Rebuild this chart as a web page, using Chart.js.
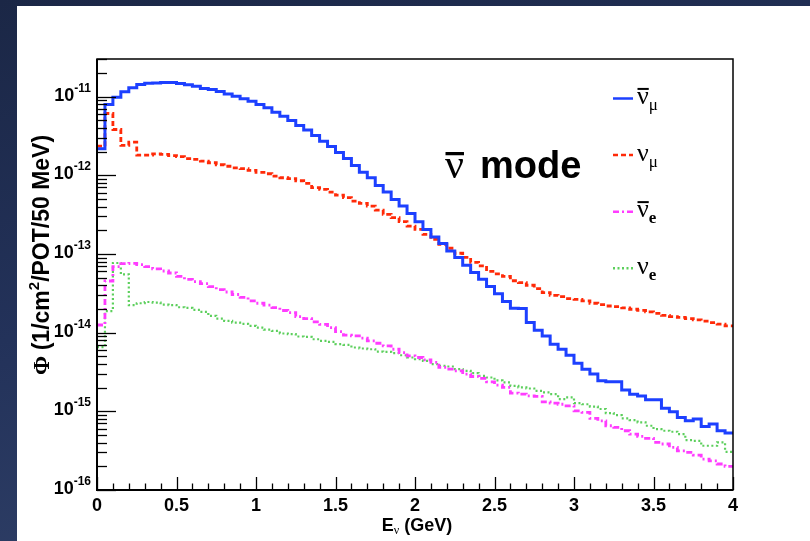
<!DOCTYPE html>
<html>
<head>
<meta charset="utf-8">
<script src="https://cdn.jsdelivr.net/npm/chart.js@4.4.1/dist/chart.umd.min.js"></script>
<style>
  html, body { margin: 0; padding: 0; width: 810px; height: 541px; overflow: hidden; }
  body { position: relative; background: linear-gradient(165deg, #1b2746 0%, #23325a 45%, #34456c 100%); }
  #sheet { position: absolute; left: 17px; top: 6px; right: 0; bottom: 0; background: #fff; }
  #flux { position: absolute; left: 0; top: 0; }
</style>
</head>
<body>
<div id="sheet"></div>
<canvas id="flux" width="810" height="541"></canvas>
<script>
// 50 MeV bins, 0 - 4 GeV
const binEdges = Array.from({ length: 81 }, (_, i) => +(i * 0.05).toFixed(2));

// flux per bin (1/cm2/POT/50 MeV)
const antiNuMu = [
  2.17e-12, 7.9e-12, 9.8e-12, 1.15e-11, 1.29e-11, 1.42e-11, 1.48e-11, 1.49e-11, 1.51e-11, 1.51e-11,
  1.46e-11, 1.41e-11, 1.35e-11, 1.27e-11, 1.23e-11, 1.16e-11, 1.08e-11, 1.01e-11, 9.35e-12, 8.7e-12,
  7.9e-12, 7.19e-12, 6.32e-12, 5.62e-12, 4.96e-12, 4.29e-12, 3.76e-12, 3.2e-12, 2.71e-12, 2.32e-12,
  1.95e-12, 1.63e-12, 1.33e-12, 1.09e-12, 9.3e-13, 7.43e-13, 6.11e-13, 4.93e-13, 4.06e-13, 3.27e-13,
  2.57e-13, 2.05e-13, 1.64e-13, 1.36e-13, 1.09e-13, 8.98e-14, 7.16e-14, 5.79e-14, 4.76e-14, 3.85e-14,
  3.12e-14, 2.49e-14, 2.04e-14, 2.02e-14, 1.34e-14, 1.07e-14, 9.08e-15, 7.13e-15, 6.15e-15, 5.16e-15,
  4.09e-15, 3.43e-15, 2.97e-15, 2.45e-15, 2.37e-15, 2.37e-15, 1.87e-15, 1.65e-15, 1.57e-15, 1.40e-15,
  1.40e-15, 1.09e-15, 9.86e-16, 8.37e-16, 7.57e-16, 7.96e-16, 6.43e-16, 6.88e-16, 5.66e-16, 5.3e-16
];
const nuMu = [
  2.34e-12, 6.09e-12, 3.81e-12, 2.39e-12, 2.63e-12, 1.80e-12, 1.80e-12, 1.87e-12, 1.84e-12, 1.78e-12,
  1.72e-12, 1.63e-12, 1.59e-12, 1.51e-12, 1.44e-12, 1.36e-12, 1.30e-12, 1.24e-12, 1.21e-12, 1.15e-12,
  1.09e-12, 1.045e-12, 9.75e-13, 9.29e-13, 9.03e-13, 8.51e-13, 7.87e-13, 6.94e-13, 6.6e-13, 6.11e-13,
  5.59e-13, 5.18e-13, 4.69e-13, 4.39e-13, 4.06e-13, 3.61e-13, 3.18e-13, 2.89e-13, 2.57e-13, 2.26e-13,
  2.05e-13, 1.77e-13, 1.53e-13, 1.32e-13, 1.18e-13, 1.02e-13, 9.06e-14, 7.82e-14, 7.06e-14, 6.01e-14,
  5.59e-14, 5.2e-14, 4.56e-14, 4.33e-14, 4.0e-14, 3.63e-14, 3.23e-14, 2.98e-14, 2.87e-14, 2.71e-14,
  2.65e-14, 2.53e-14, 2.36e-14, 2.27e-14, 2.18e-14, 2.14e-14, 2.06e-14, 1.98e-14, 1.92e-14, 1.83e-14,
  1.76e-14, 1.66e-14, 1.60e-14, 1.56e-14, 1.51e-14, 1.45e-14, 1.40e-14, 1.34e-14, 1.28e-14, 1.22e-14
];
const antiNuE = [
  1.25e-14, 4.53e-14, 6.9e-14, 7.53e-14, 7.6e-14, 7.31e-14, 6.9e-14, 6.47e-14, 6.07e-14, 5.72e-14,
  5.2e-14, 4.76e-14, 4.45e-14, 4.2e-14, 3.85e-14, 3.52e-14, 3.28e-14, 3.05e-14, 2.81e-14, 2.53e-14,
  2.36e-14, 2.23e-14, 2.08e-14, 1.91e-14, 1.80e-14, 1.60e-14, 1.51e-14, 1.37e-14, 1.27e-14, 1.16e-14,
  1.03e-14, 9.27e-15, 9.08e-15, 8.49e-15, 7.85e-15, 7.33e-15, 6.78e-15, 6.15e-15, 5.58e-15, 5.06e-15,
  4.83e-15, 4.5e-15, 4.18e-15, 3.61e-15, 3.43e-15, 3.27e-15, 2.97e-15, 2.77e-15, 2.62e-15, 2.37e-15,
  2.15e-15, 2.01e-15, 1.70e-15, 1.65e-15, 1.57e-15, 1.55e-15, 1.32e-15, 1.27e-15, 1.23e-15, 1.17e-15,
  1.01e-15, 9.68e-16, 8.13e-16, 7.57e-16, 6.55e-16, 6.25e-16, 5.66e-16, 5.14e-16, 4.8e-16, 4.53e-16,
  4.03e-16, 3.84e-16, 3.48e-16, 3.15e-16, 3.01e-16, 2.78e-16, 2.47e-16, 2.35e-16, 2.14e-16, 2.0e-16
];
const nuE = [
  6.53e-15, 1.88e-14, 7.67e-14, 5.51e-14, 2.23e-14, 2.36e-14, 2.45e-14, 2.41e-14, 2.27e-14, 2.23e-14,
  2.1e-14, 2.06e-14, 1.94e-14, 1.83e-14, 1.63e-14, 1.51e-14, 1.41e-14, 1.34e-14, 1.29e-14, 1.22e-14,
  1.16e-14, 1.09e-14, 1.05e-14, 9.75e-15, 9.55e-15, 8.93e-15, 8.82e-15, 8.24e-15, 7.85e-15, 7.62e-15,
  7.13e-15, 6.98e-15, 6.47e-15, 6.28e-15, 6.15e-15, 5.75e-15, 5.69e-15, 5.48e-15, 5.16e-15, 4.83e-15,
  4.59e-15, 4.38e-15, 3.97e-15, 3.78e-15, 3.71e-15, 3.43e-15, 3.27e-15, 3.05e-15, 2.82e-15, 2.69e-15,
  2.47e-15, 2.33e-15, 2.11e-15, 2.01e-15, 1.95e-15, 1.82e-15, 1.74e-15, 1.65e-15, 1.43e-15, 1.50e-15,
  1.27e-15, 1.23e-15, 1.15e-15, 1.07e-15, 9.49e-16, 8.95e-16, 8.13e-16, 7.73e-16, 7.23e-16, 6.55e-16,
  5.94e-16, 5.66e-16, 5.5e-16, 5.14e-16, 4.31e-16, 4.22e-16, 3.65e-16, 3.65e-16, 4.03e-16, 3.06e-16
];

const xTicks = [0, 0.5, 1, 1.5, 2, 2.5, 3, 3.5, 4];
const xTickLabels = ['0', '0.5', '1', '1.5', '2', '2.5', '3', '3.5', '4'];
const yExponents = [-16, -15, -14, -13, -12, -11];
const yTickLabels = ['-16', '-15', '-14', '-13', '-12', '-11'];

// legend: nu symbol, bar over it or not, subscript
const legendBar = [true, false, true, false];
const legendSub = ['μ', 'μ', 'e', 'e'];

function histPoints(vals) {
  let pts = vals.map((v, i) => ({ x: binEdges[i], y: v }));
  pts.push({ x: binEdges[vals.length], y: vals[vals.length - 1] });
  return pts;
}

const SANS = '"Liberation Sans", Arial, sans-serif';
const SERIF = '"Liberation Serif", "Times New Roman", serif';

function drawNu(ctx, x, base, size, bar, sub, subSize, subBold) {
  ctx.font = size + 'px ' + SERIF;
  ctx.textAlign = 'left';
  ctx.textBaseline = 'alphabetic';
  ctx.fillText('ν', x, base);
  let w = ctx.measureText('ν').width;
  if (bar) {
    ctx.lineWidth = size / 13;
    ctx.setLineDash([]);
    ctx.beginPath();
    ctx.moveTo(x + 0.5, base - size * 0.58);
    ctx.lineTo(x + w, base - size * 0.58);
    ctx.stroke();
  }
  if (sub) {
    ctx.font = (subBold ? 'bold ' : '') + subSize + 'px ' + SERIF;
    ctx.fillText(sub, x + w, base + subSize * 0.35);
  }
}

const rootStyle = {
  id: 'rootStyle',
  afterDatasetsDraw(chart) {
    let ctx = chart.ctx, xs = chart.scales.x, ys = chart.scales.y, a = chart.chartArea;
    ctx.save();
    ctx.strokeStyle = '#000';
    ctx.fillStyle = '#000';

    // frame
    ctx.lineWidth = 1.5;
    ctx.strokeRect(a.left, a.top, a.right - a.left, a.bottom - a.top);
    ctx.lineWidth = 2;
    ctx.beginPath();
    ctx.moveTo(a.left, a.top); ctx.lineTo(a.left, a.bottom); ctx.lineTo(a.right, a.bottom);
    ctx.stroke();

    // y ticks (log, inside)
    ctx.lineWidth = 1.3;
    for (let e = -16; e <= -11; e++) {
      for (let m = 1; m <= 9; m++) {
        let v = m * Math.pow(10, e);
        if (v > ys.max * 1.001) break;
        let py = Math.round(ys.getPixelForValue(v)) + 0.5;
        let len = m === 1 ? 19 : 10;
        ctx.beginPath(); ctx.moveTo(a.left, py); ctx.lineTo(a.left + len, py); ctx.stroke();
      }
    }
    // x ticks
    for (let i = 0; i <= 40; i++) {
      let px = Math.round(xs.getPixelForValue(i / 10)) + 0.5;
      let len = i % 5 === 0 ? 13 : 6.5;
      ctx.beginPath(); ctx.moveTo(px, a.bottom); ctx.lineTo(px, a.bottom - len); ctx.stroke();
    }

    // x tick labels
    ctx.font = 'bold 18px ' + SANS;
    ctx.textAlign = 'center';
    ctx.textBaseline = 'alphabetic';
    xTicks.forEach((t, i) => ctx.fillText(xTickLabels[i], xs.getPixelForValue(t), 511));

    // y tick labels 10^n
    yExponents.forEach((e, i) => {
      let py = ys.getPixelForValue(Math.pow(10, e));
      ctx.font = 'bold 12px ' + SANS;
      let we = ctx.measureText(yTickLabels[i]).width;
      ctx.textAlign = 'left';
      ctx.fillText(yTickLabels[i], 91 - we, py - 5);
      ctx.font = 'bold 18px ' + SANS;
      ctx.textAlign = 'right';
      ctx.fillText('10', 91 - we, py + 4);
    });

    // x title: E_nu (GeV)
    ctx.textAlign = 'left';
    ctx.font = 'bold 18px ' + SANS;
    let wE = ctx.measureText('E').width;
    let wG = ctx.measureText(' (GeV)').width;
    ctx.font = '12px ' + SERIF;
    let wn = ctx.measureText('ν').width;
    let x0 = 417 - (wE + wn + wG) / 2;
    ctx.font = 'bold 18px ' + SANS;
    ctx.fillText('E', x0, 531);
    ctx.font = '12px ' + SERIF;
    ctx.fillText('ν', x0 + wE, 534);
    ctx.font = 'bold 18px ' + SANS;
    ctx.fillText(' (GeV)', x0 + wE + wn, 531);

    // y title: Phi (1/cm2/POT/50 MeV), rotated
    ctx.save();
    ctx.translate(49, 255);
    ctx.rotate(-Math.PI / 2);
    let p1 = '(1/cm', p2 = '2', p3 = '/POT/50 MeV)';
    ctx.font = 'bold 23px ' + SERIF;
    let wPhi = ctx.measureText('Φ ').width;
    ctx.font = 'bold 23px ' + SANS;
    let w1 = ctx.measureText(p1).width, w3 = ctx.measureText(p3).width;
    ctx.font = 'bold 15px ' + SANS;
    let w2 = ctx.measureText(p2).width;
    let sx = -(wPhi + w1 + w2 + w3) / 2;
    ctx.font = 'bold 23px ' + SERIF;
    ctx.fillText('Φ ', sx, 0);
    ctx.font = 'bold 23px ' + SANS;
    ctx.fillText(p1, sx + wPhi, 0);
    ctx.font = 'bold 15px ' + SANS;
    ctx.fillText(p2, sx + wPhi + w1, -10);
    ctx.font = 'bold 23px ' + SANS;
    ctx.fillText(p3, sx + wPhi + w1 + w2, 0);
    ctx.restore();

    // legend
    chart.data.datasets.forEach((ds, i) => {
      let ly = 98.5 + 56.6 * i;
      ctx.strokeStyle = ds.borderColor;
      ctx.lineWidth = 2.5;
      ctx.setLineDash(ds.borderDash || []);
      ctx.beginPath(); ctx.moveTo(613, ly); ctx.lineTo(633, ly); ctx.stroke();
      ctx.setLineDash([]);
      ctx.strokeStyle = '#000';
      drawNu(ctx, 637, ly + 5.5, 26, legendBar[i], legendSub[i], 17, legendSub[i] === 'e');
    });

    // mode label
    ctx.fillStyle = '#000';
    drawNu(ctx, 445, 178, 42, true, '', 0, false);
    ctx.font = 'bold 38px ' + SANS;
    ctx.textAlign = 'left';
    ctx.fillText('mode', 480, 178);

    ctx.restore();
  }
};

new Chart(document.getElementById('flux'), {
  type: 'line',
  data: {
    datasets: [
      { label: 'anti-nu_mu', data: histPoints(antiNuMu), borderColor: '#1d40ff', borderWidth: 3, borderDash: [] },
      { label: 'nu_mu', data: histPoints(nuMu), borderColor: '#ff2a08', borderWidth: 2.8, borderDash: [5, 3] },
      { label: 'anti-nu_e', data: histPoints(antiNuE), borderColor: '#ff3cff', borderWidth: 2.8, borderDash: [6, 3, 2, 3] },
      { label: 'nu_e', data: histPoints(nuE), borderColor: '#5ccf5c', borderWidth: 2.2, borderDash: [2, 2.5] }
    ]
  },
  options: {
    responsive: false,
    animation: false,
    devicePixelRatio: 1,
    elements: { point: { radius: 0 }, line: { stepped: true, tension: 0, fill: false } },
    layout: { padding: { left: 0, top: 59, right: 77, bottom: 0 } },
    plugins: { legend: { display: false }, tooltip: { enabled: false } },
    scales: {
      x: {
        type: 'linear', min: 0, max: 4,
        grid: { display: false }, border: { display: false },
        ticks: { display: false },
        afterFit: s => { s.height = 51; }
      },
      y: {
        type: 'logarithmic', min: 1e-16, max: 3e-11,
        grid: { display: false }, border: { display: false },
        ticks: { display: false },
        afterFit: s => { s.width = 97; }
      }
    }
  },
  plugins: [rootStyle]
});
</script>
</body>
</html>
